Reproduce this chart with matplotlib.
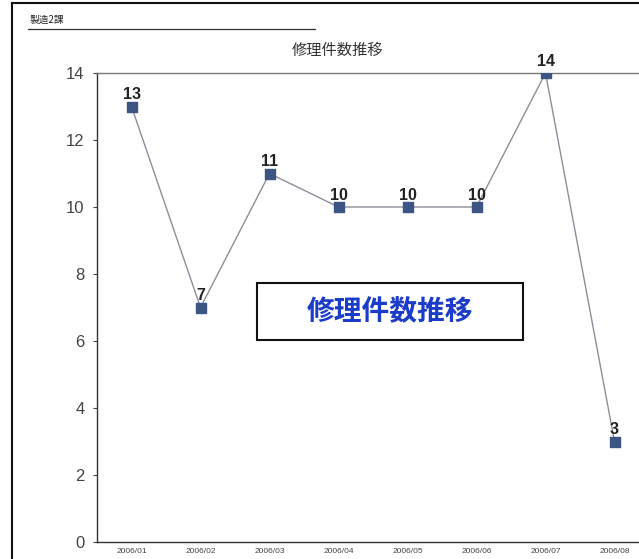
import matplotlib
matplotlib.use("Agg")
import matplotlib.pyplot as plt
from matplotlib.patches import Rectangle
from matplotlib.lines import Line2D

plt.rcParams['font.family'] = ['Noto Sans CJK JP', 'DejaVu Sans']
num_font = ['Liberation Sans', 'DejaVu Sans']

months = ["2006/01", "2006/02", "2006/03", "2006/04", "2006/05", "2006/06", "2006/07", "2006/08"]
counts = [13, 7, 11, 10, 10, 10, 14, 3]
title = "修理件数推移"
header = "製造2課"
yticks = [0, 2, 4, 6, 8, 10, 12, 14]

W, H = 639, 559
fig = plt.figure(figsize=(W / 100, H / 100), dpi=100)

ax = fig.add_axes([97 / W, (H - 542) / H, (649 - 97) / W, (542 - 73) / H])
x = list(range(len(months)))
ax.plot(x, counts, color="#8a8f99", lw=1.0, zorder=2)
ax.scatter(x, counts, marker="s", s=60, color="#3d5582", zorder=3)
for xi, v in zip(x, counts):
    ax.annotate(str(v), (xi, v), xytext=(0, 3), textcoords="offset points",
                ha="center", va="bottom", fontsize=11.5, fontweight="bold", color="#222222",
                family=num_font)

ax.set_xlim(-0.5, 7.5)
ax.set_ylim(0, 14)
ax.set_yticks(yticks)
ax.set_yticklabels([str(t) for t in yticks], fontsize=12, color="#444444", family=num_font)
ax.set_xticks(x)
ax.set_xticklabels(months, fontsize=6, color="#444444", family=num_font)
ax.tick_params(axis="y", length=3, width=0.8, color="#444444", pad=6)
ax.tick_params(axis="x", length=0, pad=4)
for s in ["left", "bottom", "top"]:
    ax.spines[s].set_color("#333333")
    ax.spines[s].set_linewidth(1.0)
ax.spines["right"].set_visible(False)
ax.spines["top"].set_color("#777777")

fig.text(337 / W, 1 - 50 / H, title, ha="center", va="center", fontsize=11, color="#333333")
fig.text(30 / W, 1 - 20 / H, header, ha="left", va="center", fontsize=7, color="#222222")
fig.add_artist(Line2D([28 / W, 315 / W], [1 - 29 / H, 1 - 29 / H], color="#333333", lw=0.9))

# outer border
fig.add_artist(Line2D([12 / W, 12 / W], [0, 1 - 3 / H], color="#111111", lw=1.5))
fig.add_artist(Line2D([12 / W, 1], [1 - 3 / H, 1 - 3 / H], color="#111111", lw=1.5))

# boxed label
fig.add_artist(Rectangle((257 / W, 1 - 340 / H), (523 - 257) / W, (340 - 283) / H,
                         transform=fig.transFigure, facecolor="white", edgecolor="#111111", lw=1.5, zorder=5))
fig.text(390 / W, 1 - 312 / H, title, ha="center", va="center", fontsize=20, fontweight="bold",
         color="#1a3cc8", zorder=6)

fig.savefig("out.png", dpi=100)
